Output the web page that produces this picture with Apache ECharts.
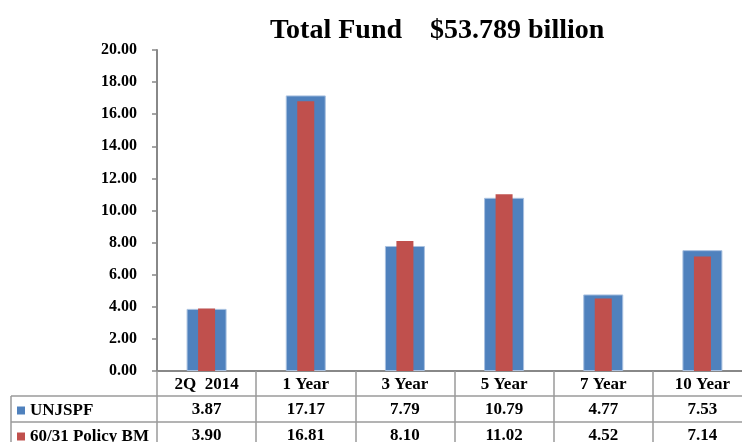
<!DOCTYPE html>
<html>
<head>
<meta charset="utf-8">
<style>
  html, body { margin: 0; padding: 0; background: #fff; }
  #chart { width: 742px; height: 442px; }
</style>
<script src="https://cdn.jsdelivr.net/npm/echarts@6/dist/echarts.min.js"></script>
</head>
<body>
<div id="chart"></div>
<script>
var categories = ['2Q  2014', '1 Year', '3 Year', '5 Year', '7 Year', '10 Year'];
var unjspf = [3.87, 17.17, 7.79, 10.79, 4.77, 7.53];
var policyBM = [3.90, 16.81, 8.10, 11.02, 4.52, 7.14];
var seriesNames = ['UNJSPF', '60/31 Policy BM'];
var yTicks = { min: 0, max: 20, interval: 2 };

var font = 'Liberation Serif, Times New Roman, serif';
var gridColor = '#9a9a9a';
var cellText = { fontFamily: font, fontWeight: 'bold', fontSize: 17, color: '#000' };

function fmt(v) { return v.toFixed(2); }

var chart = echarts.init(document.getElementById('chart'));

// table row lines (the column lines come from the axis ticks)
var tableLines = [
    { type: 'line', shape: { x1: 11, y1: 396, x2: 742, y2: 396 } },
    { type: 'line', shape: { x1: 11, y1: 422, x2: 742, y2: 422 } },
    { type: 'line', shape: { x1: 11, y1: 396, x2: 11, y2: 442 } }
];
tableLines.forEach(function (l) {
    l.style = { stroke: gridColor, lineWidth: 1.5 };
    l.silent = true;
});

// one legend per table row
var legends = seriesNames.map(function (name, i) {
    return {
        left: 17,
        top: 402 + i * 26,
        padding: 0,
        icon: 'rect',
        itemWidth: 8,
        itemHeight: 8,
        itemGap: 0,
        data: [name],
        itemStyle: { borderWidth: 0 },
        textStyle: cellText,
        selectedMode: false
    };
});

chart.setOption({
    animation: false,
    backgroundColor: '#fff',
    title: {
        text: 'Total Fund    $53.789 billion',
        left: 265,
        top: 12,
        textStyle: { fontFamily: font, fontWeight: 'bold', fontSize: 28, color: '#000' }
    },
    legend: legends,
    grid: { left: 157, right: -10, top: 50, bottom: 71, outerBoundsMode: 'none', containLabel: false },
    xAxis: [
        {
            type: 'category',
            data: categories,
            position: 'bottom',
            axisLine: { show: true, lineStyle: { color: '#888', width: 2 } },
            axisTick: { show: true, length: 72, lineStyle: { color: gridColor, width: 1.5 } },
            axisLabel: Object.assign({ margin: 5, interval: 0 }, cellText)
        },
        {
            type: 'category',
            data: unjspf.map(fmt),
            position: 'bottom',
            offset: 25,
            axisLine: { show: false },
            axisTick: { show: false },
            axisLabel: Object.assign({ margin: 5, interval: 0 }, cellText)
        },
        {
            type: 'category',
            data: policyBM.map(fmt),
            position: 'bottom',
            offset: 51,
            axisLine: { show: false },
            axisTick: { show: false },
            axisLabel: Object.assign({ margin: 5, interval: 0 }, cellText)
        },
        {
            type: 'category',
            data: categories,
            show: false
        }
    ],
    yAxis: {
        type: 'value',
        min: yTicks.min,
        max: yTicks.max,
        interval: yTicks.interval,
        axisLine: { show: true, lineStyle: { color: '#888', width: 2 } },
        axisTick: { show: true, length: 5, lineStyle: { color: '#888', width: 1.5 } },
        splitLine: { show: false },
        axisLabel: {
            margin: 20,
            formatter: fmt,
            fontFamily: font,
            fontWeight: 'bold',
            fontSize: 16,
            color: '#000'
        }
    },
    series: [
        {
            name: seriesNames[0],
            type: 'bar',
            xAxisIndex: 0,
            barWidth: 40,
            itemStyle: { color: '#4F81BD', borderColor: '#a9c1e0', borderWidth: 1 },
            data: unjspf
        },
        {
            name: seriesNames[1],
            type: 'bar',
            xAxisIndex: 3,
            barWidth: 17,
            itemStyle: { color: '#C0504D' },
            data: policyBM
        }
    ],
    graphic: tableLines
});
</script>
</body>
</html>
